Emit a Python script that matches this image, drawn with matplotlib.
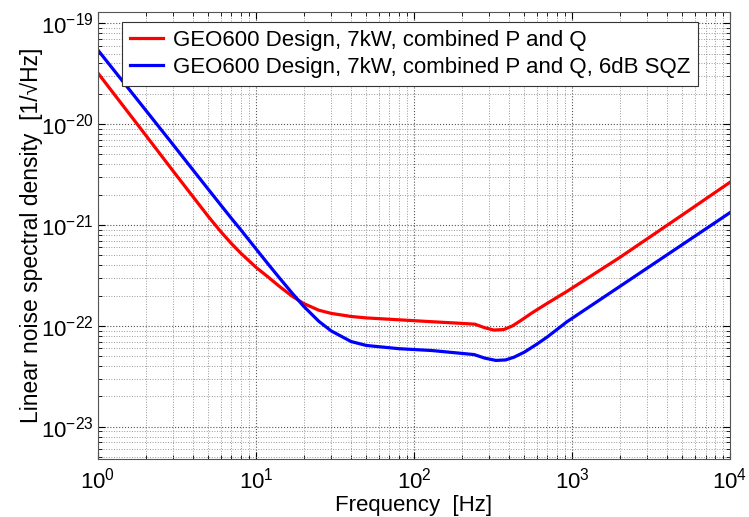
import matplotlib
matplotlib.use("Agg")
import matplotlib.pyplot as plt
from matplotlib.ticker import FixedLocator, LogLocator, NullFormatter, LogFormatterMathtext

plt.rcParams["font.family"] = ["Liberation Sans", "DejaVu Sans"]
plt.rcParams["mathtext.fontset"] = "custom"
plt.rcParams["mathtext.rm"] = "Liberation Sans"
plt.rcParams["mathtext.default"] = "regular"

# GEO600 design, 7 kW, combined P and Q
freq_pq = [1, 2, 3, 4, 5, 6, 7, 8, 10, 12, 14, 17, 20, 25, 30, 40, 50, 80, 130,
           200, 243, 280, 320, 370, 420, 470, 560, 700, 930, 2000, 5000, 10000]
asd_pq = [3.2e-20, 7.8e-21, 3.4e-21, 1.9e-21, 1.21e-21, 8.56e-22, 6.53e-22, 5.27e-22,
          3.81e-22, 3.03e-22, 2.48e-22, 1.96e-22, 1.67e-22, 1.43e-22, 1.33e-22, 1.24e-22,
          1.2e-22, 1.15e-22, 1.1e-22, 1.06e-22, 1.04e-22, 9.6e-23, 9.1e-23, 9.2e-23,
          1.0e-22, 1.12e-22, 1.35e-22, 1.68e-22, 2.2e-22, 4.75e-22, 1.26e-21, 2.65e-21]

# same, with 6 dB squeezing
freq_sqz = [1, 2, 3, 4, 5, 6, 7, 8, 10, 12, 14, 17, 20, 25, 30, 40, 50, 80, 130,
            240, 280, 330, 380, 430, 500, 600, 700, 930, 2000, 5000, 10000]
asd_sqz = [5.4e-20, 1.38e-20, 6.2e-21, 3.5e-21, 2.25e-21, 1.57e-21, 1.16e-21, 9.0e-22,
           5.8e-22, 4.06e-22, 3.02e-22, 2.1e-22, 1.57e-22, 1.11e-22, 8.9e-23, 7.0e-23,
           6.4e-23, 5.95e-23, 5.7e-23, 5.2e-23, 4.8e-23, 4.55e-23, 4.6e-23, 4.9e-23,
           5.5e-23, 6.6e-23, 7.8e-23, 1.1e-22, 2.45e-22, 6.4e-22, 1.325e-21]

labels = ["GEO600 Design, 7kW, combined P and Q",
          "GEO600 Design, 7kW, combined P and Q, 6dB SQZ"]
xticks = [1e0, 1e1, 1e2, 1e3, 1e4]
yticks = [1e-23, 1e-22, 1e-21, 1e-20, 1e-19]

fig = plt.figure(figsize=(7.49, 5.17), dpi=100)
ax = fig.add_axes([0.1308, 0.1122, 0.8438, 0.8646])

ax.loglog(freq_pq, asd_pq, color="#ff0000", lw=2.3, label=labels[0])
ax.loglog(freq_sqz, asd_sqz, color="#0000ff", lw=2.3, label=labels[1])

ax.set_xlim(1, 1e4)
ax.set_ylim(4.8e-24, 1.29e-19)
ax.xaxis.set_major_locator(FixedLocator(xticks))
ax.yaxis.set_major_locator(FixedLocator(yticks))
ax.xaxis.set_major_formatter(LogFormatterMathtext())
ax.yaxis.set_major_formatter(LogFormatterMathtext())
ax.xaxis.set_minor_locator(LogLocator(base=10, subs=range(2, 10), numticks=20))
ax.yaxis.set_minor_locator(LogLocator(base=10, subs=range(2, 10), numticks=20))
ax.xaxis.set_minor_formatter(NullFormatter())
ax.yaxis.set_minor_formatter(NullFormatter())

ax.grid(True, which="major", ls=":", color="#555555", lw=0.8)
ax.grid(True, which="minor", ls=":", color="#999999", lw=0.7)
ax.tick_params(which="both", direction="in", top=True, right=True)
ax.tick_params(which="major", length=5, labelsize=16)
ax.tick_params(axis="y", which="major", pad=3)
ax.tick_params(axis="x", which="major", pad=6)
ax.tick_params(which="minor", length=3)
for s in ax.spines.values():
    s.set_color("#555555")

ax.set_xlabel("Frequency  [Hz]", fontsize=16)
ax.set_ylabel("Linear noise spectral density  [1/\u221aHz]", fontsize=16.5)
ax.yaxis.set_label_coords(-0.087, 0.5)
ax.xaxis.set_label_coords(0.5, -0.08)

leg = ax.legend(loc="upper left", bbox_to_anchor=(0.038, 0.978), fontsize=16,
                fancybox=False, framealpha=1, edgecolor="#333333",
                handlelength=1.5, borderpad=0.35, borderaxespad=0,
                labelspacing=0.3, handletextpad=0.45)
leg.get_frame().set_linewidth(0.8)

fig.savefig("out.png", dpi=100)
